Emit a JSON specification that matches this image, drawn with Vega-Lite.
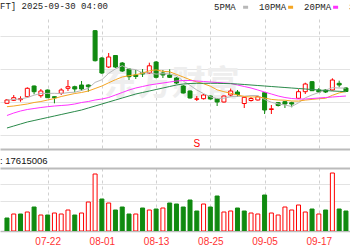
{
  "$schema": "https://vega.github.io/schema/vega-lite/v6.json",
  "padding": {"left": 0, "top": 2, "right": 0, "bottom": 0},
  "spacing": 6,
  "background": "#ffffff",
  "config": {"view": {"stroke": null}, "font": "Liberation Sans"},
  "datasets": {
    "k": [
      {"i":0,"o":45.7,"h":50,"l":45,"c":49,"v":13,"vd":"d","5PMA":49,"10PMA":42.3,"20PMA":33.5,"30PMA":21},
      {"i":1,"o":48.7,"h":54,"l":48,"c":51.3,"v":17,"vd":"u","5PMA":49.5,"10PMA":43,"20PMA":36,"30PMA":23},
      {"i":2,"o":49.3,"h":52.7,"l":47.3,"c":50.5,"v":17,"vd":"d","5PMA":50,"10PMA":44,"20PMA":38,"30PMA":25},
      {"i":3,"o":52.3,"h":61.7,"l":51.5,"c":60.7,"v":19,"vd":"u","5PMA":51.5,"10PMA":45,"20PMA":39.5,"30PMA":27},
      {"i":4,"o":63,"h":63.5,"l":54.7,"c":57.3,"v":24,"vd":"d","5PMA":53.8,"10PMA":46.5,"20PMA":40.5,"30PMA":28.5},
      {"i":5,"o":53.3,"h":60,"l":51.3,"c":58,"v":16,"vd":"u","5PMA":55.6,"10PMA":47.5,"20PMA":41.5,"30PMA":30},
      {"i":6,"o":59,"h":59.5,"l":51,"c":51.3,"v":16,"vd":"d","5PMA":55.6,"10PMA":49,"20PMA":42.3,"30PMA":31.5},
      {"i":7,"o":52.3,"h":52.5,"l":45.7,"c":51.3,"v":18,"vd":"u","5PMA":55.7,"10PMA":50.5,"20PMA":43,"30PMA":33},
      {"i":8,"o":55.7,"h":60.7,"l":54,"c":59,"v":17,"vd":"u","5PMA":55.4,"10PMA":52.5,"20PMA":43.5,"30PMA":34.5},
      {"i":9,"o":60.7,"h":69,"l":58,"c":62.3,"v":21,"vd":"u","5PMA":56.4,"10PMA":54,"20PMA":44,"30PMA":36},
      {"i":10,"o":62.3,"h":63.3,"l":56.7,"c":60,"v":16,"vd":"d","5PMA":56.8,"10PMA":55.5,"20PMA":45,"30PMA":37.5},
      {"i":11,"o":64,"h":68,"l":58,"c":60,"v":18,"vd":"u","5PMA":58.5,"10PMA":56.5,"20PMA":46.5,"30PMA":39},
      {"i":12,"o":64,"h":64.7,"l":57.3,"c":62.3,"v":29,"vd":"u","5PMA":60.7,"10PMA":58,"20PMA":47.5,"30PMA":41},
      {"i":13,"o":118.3,"h":119,"l":87.5,"c":88.3,"v":57,"vd":"u","5PMA":66.6,"10PMA":60.5,"20PMA":49,"30PMA":43},
      {"i":14,"o":91,"h":92,"l":75,"c":76,"v":32,"vd":"d","5PMA":69.3,"10PMA":63,"20PMA":50,"30PMA":45},
      {"i":15,"o":82,"h":96,"l":81,"c":92,"v":28,"vd":"u","5PMA":75.7,"10PMA":66.2,"20PMA":51.5,"30PMA":47},
      {"i":16,"o":93.5,"h":94,"l":81,"c":82,"v":21,"vd":"d","5PMA":80.1,"10PMA":69.3,"20PMA":54,"30PMA":49},
      {"i":17,"o":86,"h":87,"l":77,"c":78,"v":24,"vd":"d","5PMA":83.3,"10PMA":72,"20PMA":56.5,"30PMA":51},
      {"i":18,"o":80,"h":81,"l":69,"c":72.3,"v":17,"vd":"d","5PMA":80.1,"10PMA":73.3,"20PMA":59,"30PMA":53},
      {"i":19,"o":74,"h":79,"l":70,"c":72.5,"v":17,"vd":"u","5PMA":79.4,"10PMA":74.3,"20PMA":61,"30PMA":55},
      {"i":20,"o":76.5,"h":80,"l":72,"c":75,"v":23,"vd":"d","5PMA":76,"10PMA":75.8,"20PMA":62.5,"30PMA":56.5},
      {"i":21,"o":76,"h":86.3,"l":75,"c":83.2,"v":21,"vd":"u","5PMA":76.2,"10PMA":78.2,"20PMA":64,"30PMA":58},
      {"i":22,"o":87,"h":88,"l":70.5,"c":71.7,"v":22,"vd":"d","5PMA":74.9,"10PMA":79.1,"20PMA":65,"30PMA":59.5},
      {"i":23,"o":76,"h":79,"l":71,"c":74,"v":23,"vd":"u","5PMA":75.3,"10PMA":77.7,"20PMA":66,"30PMA":61},
      {"i":24,"o":74,"h":79.7,"l":71,"c":71.7,"v":28,"vd":"d","5PMA":75.1,"10PMA":77.2,"20PMA":67,"30PMA":62.5},
      {"i":25,"o":71,"h":72,"l":65,"c":66,"v":27,"vd":"d","5PMA":73.3,"10PMA":74.6,"20PMA":68,"30PMA":64},
      {"i":26,"o":63,"h":64,"l":55.5,"c":56,"v":24,"vd":"d","5PMA":67.9,"10PMA":72,"20PMA":68.5,"30PMA":65},
      {"i":27,"o":58,"h":58.5,"l":50.5,"c":51,"v":31,"vd":"d","5PMA":63.7,"10PMA":69.3,"20PMA":68.5,"30PMA":65.5},
      {"i":28,"o":49.7,"h":53,"l":48,"c":50.2,"v":20,"vd":"d","5PMA":59,"10PMA":67.1,"20PMA":68,"30PMA":65.7},
      {"i":29,"o":50.3,"h":55,"l":49.5,"c":54,"v":27,"vd":"u","5PMA":55.4,"10PMA":65.3,"20PMA":67.5,"30PMA":65.7},
      {"i":30,"o":53,"h":53.5,"l":49.5,"c":50,"v":24,"vd":"d","5PMA":52.2,"10PMA":62.8,"20PMA":67,"30PMA":65.7},
      {"i":31,"o":50.5,"h":51,"l":43,"c":47,"v":35,"vd":"d","5PMA":50.4,"10PMA":59.2,"20PMA":66.5,"30PMA":65.7},
      {"i":32,"o":47,"h":53.5,"l":46.5,"c":53,"v":19,"vd":"u","5PMA":50.8,"10PMA":57.3,"20PMA":66,"30PMA":65.5},
      {"i":33,"o":54,"h":60.5,"l":52.5,"c":58,"v":20,"vd":"u","5PMA":52.4,"10PMA":55.7,"20PMA":65.5,"30PMA":65.3},
      {"i":34,"o":57,"h":59,"l":52.3,"c":54.5,"v":23,"vd":"d","5PMA":52.5,"10PMA":54,"20PMA":64,"30PMA":65},
      {"i":35,"o":45.5,"h":52,"l":41,"c":51.7,"v":20,"vd":"d","5PMA":52.8,"10PMA":52.5,"20PMA":62.5,"30PMA":64.5},
      {"i":36,"o":48.5,"h":52,"l":47.5,"c":50.5,"v":18,"vd":"u","5PMA":53.5,"10PMA":52,"20PMA":61,"30PMA":64},
      {"i":37,"o":49,"h":53.3,"l":48.5,"c":52.3,"v":17,"vd":"u","5PMA":53.4,"10PMA":52.1,"20PMA":59,"30PMA":63.5},
      {"i":38,"o":56.3,"h":57,"l":35,"c":39,"v":36,"vd":"d","5PMA":49.6,"10PMA":51,"20PMA":57,"30PMA":63},
      {"i":39,"o":39.5,"h":44,"l":35,"c":40.2,"v":18,"vd":"u","5PMA":46.7,"10PMA":49.6,"20PMA":55,"30PMA":62.5},
      {"i":40,"o":46.3,"h":47,"l":42.5,"c":43.5,"v":16,"vd":"u","5PMA":45.1,"10PMA":49,"20PMA":53,"30PMA":62},
      {"i":41,"o":47.3,"h":48,"l":41,"c":45,"v":24,"vd":"u","5PMA":44,"10PMA":48.8,"20PMA":51.5,"30PMA":61.5},
      {"i":42,"o":46.3,"h":47.3,"l":41.7,"c":45,"v":21,"vd":"u","5PMA":42.5,"10PMA":48,"20PMA":50.5,"30PMA":61},
      {"i":43,"o":50.7,"h":59.7,"l":50,"c":57.3,"v":26,"vd":"u","5PMA":46.2,"10PMA":47.9,"20PMA":50,"30PMA":60.5},
      {"i":44,"o":57.3,"h":66.3,"l":55,"c":65,"v":19,"vd":"u","5PMA":51.2,"10PMA":48.9,"20PMA":50,"30PMA":60},
      {"i":45,"o":67.3,"h":68,"l":58,"c":58.3,"v":22,"vd":"d","5PMA":54.1,"10PMA":49.6,"20PMA":50.5,"30PMA":59.5},
      {"i":46,"o":59,"h":61,"l":56,"c":57,"v":17,"vd":"u","5PMA":56.5,"10PMA":50.3,"20PMA":51,"30PMA":59},
      {"i":47,"o":59,"h":60,"l":56,"c":57,"v":21,"vd":"d","5PMA":58.9,"10PMA":50.7,"20PMA":51.5,"30PMA":58.5},
      {"i":48,"o":59,"h":70.7,"l":58.5,"c":69,"v":58,"vd":"u","5PMA":61.3,"10PMA":53.7,"20PMA":52,"30PMA":58},
      {"i":49,"o":65.7,"h":68.3,"l":61.7,"c":64,"v":22,"vd":"d","5PMA":61,"10PMA":56.1,"20PMA":52.5,"30PMA":57.7},
      {"i":50,"o":61,"h":62,"l":57,"c":57.5,"v":20,"vd":"d","5PMA":60.9,"10PMA":57.5,"20PMA":53,"30PMA":57.3}
    ],
    "wm": [{"i": 24.3, "p": 64, "t": "东方财富"}],
    "ev": [{"i": 28, "p": 5, "t": "S"}]
  },
  "vconcat": [
    {
      "width": 350,
      "height": 130,
      "title": {"text": "FT] 2025-09-30 04:00", "anchor": "start", "font": "Liberation Mono", "fontSize": 9, "fontWeight": "normal", "color": "#222222", "offset": 8},
      "layer": [
        {
          "data": {"name": "wm"},
          "mark": {"type": "text", "font": "Noto Sans CJK SC", "fontSize": 34, "fontWeight": "bold", "color": "#eeeeee", "clip": true},
          "encoding": {
            "x": {"field": "i", "type": "quantitative", "scale": {"domain": [-0.29, 49.86], "nice": false, "zero": false},
                  "axis": {"orient": "bottom", "values": [6, 14, 22, 30, 38, 46], "labels": false, "ticks": false, "domain": true, "domainColor": "#bbbbbb", "domainWidth": 2, "grid": true, "gridColor": "#d0d0d0", "gridDash": [3, 3], "title": null}},
            "y": {"field": "p", "type": "quantitative", "scale": {"domain": [0, 130], "nice": false, "zero": false},
                  "axis": {"values": [14.5, 31, 47.5, 64, 80.5, 97, 113.5, 130], "labels": false, "ticks": false, "domain": false, "grid": true,
                           "gridColor": {"condition": {"test": "datum.value >= 130", "value": "#c4c4c4"}, "value": "#e3e3e3"}, "title": null}},
            "text": {"field": "t"}
          }
        },
        {
          "data": {"name": "k"},
          "mark": {"type": "rule", "clip": true, "strokeWidth": 1},
          "encoding": {
            "x": {"field": "i", "type": "quantitative"},
            "y": {"field": "l", "type": "quantitative"},
            "y2": {"field": "h"},
            "color": {"condition": {"test": "datum.c >= datum.o", "value": "#ff0000"}, "value": "#108a10"}
          }
        },
        {
          "data": {"name": "k"},
          "mark": {"type": "bar", "clip": true, "width": 4, "strokeWidth": 1, "orient": "vertical"},
          "encoding": {
            "x": {"field": "i", "type": "quantitative"},
            "y": {"field": "o", "type": "quantitative"},
            "y2": {"field": "c"},
            "fill": {"condition": {"test": "datum.c >= datum.o", "value": "#ffffff"}, "value": "#108a10"},
            "stroke": {"condition": {"test": "datum.c >= datum.o", "value": "#ff0000"}, "value": "#108a10"}
          }
        },
        {
          "data": {"name": "k"},
          "transform": [{"fold": ["5PMA", "10PMA", "20PMA", "30PMA"], "as": ["ma", "val"]}],
          "mark": {"type": "line", "clip": true, "strokeWidth": 1},
          "encoding": {
            "x": {"field": "i", "type": "quantitative"},
            "y": {"field": "val", "type": "quantitative"},
            "color": {"field": "ma", "type": "nominal",
                      "scale": {"domain": ["5PMA", "10PMA", "20PMA", "30PMA"], "range": ["#b8b8b8", "#f5a623", "#ff33ff", "#2a8a4a"]},
                      "legend": {"orient": "none", "legendX": 209.1, "legendY": -16.5, "direction": "horizontal", "columns": 4, "title": null,
                                 "symbolType": "stroke", "symbolSize": 25, "symbolStrokeWidth": 3, "symbolOpacity": 1, "symbolOffset": 32, "labelOffset": -36,
                                 "columnPadding": 0, "padding": 0, "labelFont": "Liberation Mono", "labelFontSize": 9, "labelColor": "#222222",
                                 "labelExpr": "datum.label == '5PMA' ? '\u00a05PMA' : datum.label"}}
          }
        },
        {
          "data": {"name": "ev"},
          "mark": {"type": "text", "font": "Liberation Sans", "fontSize": 10, "color": "#ff0000"},
          "encoding": {
            "x": {"field": "i", "type": "quantitative"},
            "y": {"field": "p", "type": "quantitative"},
            "text": {"field": "t"}
          }
        }
      ]
    },
    {
      "width": 350,
      "height": 63,
      "title": {"text": ": 17615006", "anchor": "start", "font": "Liberation Sans", "fontSize": 9.5, "fontWeight": "normal", "color": "#111111", "offset": 3},
      "data": {"name": "k"},
      "mark": {"type": "bar", "clip": true, "width": 4, "strokeWidth": 1, "orient": "vertical"},
      "encoding": {
        "x": {"field": "i", "type": "quantitative", "scale": {"domain": [-0.29, 49.86], "nice": false, "zero": false},
              "axis": {"values": [6, 14, 22, 30, 38, 46],
                       "labelExpr": "['07-22','08-01','08-13','08-25','09-05','09-17'][(datum.value-6)/8]",
                       "labelColor": "#ff3333", "labelFont": "Liberation Sans", "labelFontSize": 10, "labelPadding": 5,
                       "ticks": false, "domain": true, "domainColor": "#bbbbbb", "domainWidth": 1.5,
                       "grid": true, "gridColor": "#d0d0d0", "gridDash": [3, 3], "title": null}},
        "y": {"field": "v", "type": "quantitative", "scale": {"domain": [0, 63], "nice": false},
              "axis": {"values": [30, 46.5, 63], "labels": false, "ticks": false, "domain": false, "grid": true,
                       "gridColor": {"condition": {"test": "datum.value >= 63", "value": "#bbbbbb"}, "value": "#e3e3e3"},
                       "gridWidth": {"condition": {"test": "datum.value >= 63", "value": 2}, "value": 1}, "title": null}},
        "y2": {"datum": 0},
        "fill": {"condition": {"test": "datum.vd == 'u'", "value": "#ffffff"}, "value": "#108a10"},
        "stroke": {"condition": {"test": "datum.vd == 'u'", "value": "#ff0000"}, "value": "#108a10"}
      }
    }
  ]
}
